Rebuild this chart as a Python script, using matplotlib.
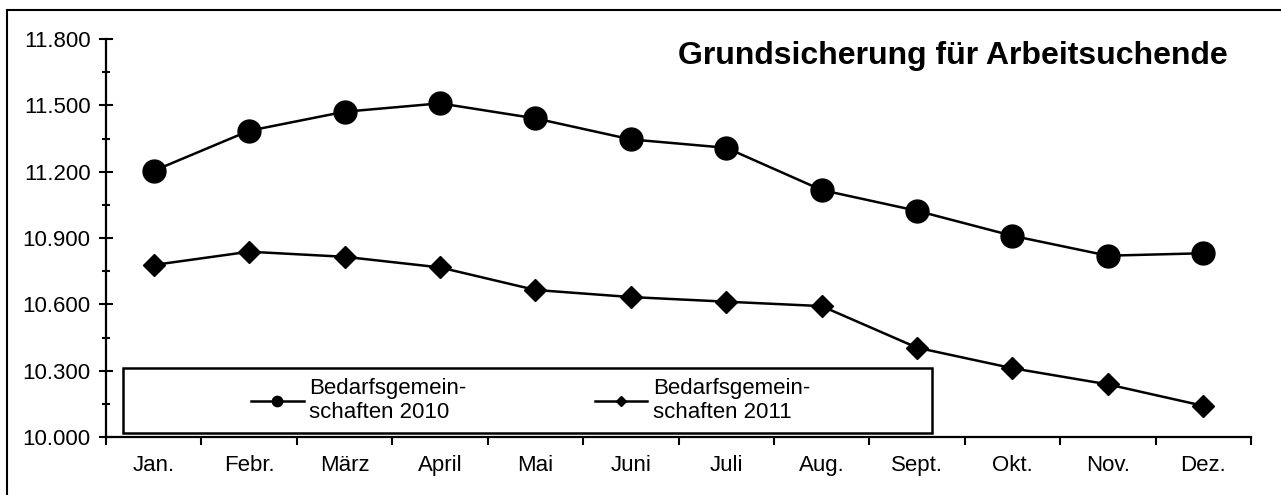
import matplotlib
matplotlib.use('Agg')
import matplotlib.pyplot as plt
from matplotlib.patches import Rectangle
from matplotlib.ticker import FixedLocator, FuncFormatter

plt.rcParams['font.family'] = ['Liberation Sans', 'DejaVu Sans']

# data
months = ['Jan.', 'Febr.', 'März', 'April', 'Mai', 'Juni', 'Juli',
          'Aug.', 'Sept.', 'Okt.', 'Nov.', 'Dez.']
bg_2010 = [11204, 11385, 11471, 11509, 11441, 11346, 11308,
           11117, 11023, 10910, 10820, 10831]
bg_2011 = [10778, 10838, 10815, 10767, 10665, 10633, 10612,
           10592, 10404, 10311, 10238, 10141]
y_ticks = [10000, 10300, 10600, 10900, 11200, 11500, 11800]
title = 'Grundsicherung für Arbeitsuchende'
label_2010 = 'Bedarfsgemein-\nschaften 2010'
label_2011 = 'Bedarfsgemein-\nschaften 2011'

fig = plt.figure(figsize=(12.81, 4.95), dpi=100)
ax = fig.add_axes([106 / 1281, 58 / 495, 1145 / 1281, 398 / 495])

x = list(range(len(months)))
l1, = ax.plot(x, bg_2010, color='black', lw=1.8, marker='o', ms=16.5,
              label=label_2010)
l2, = ax.plot(x, bg_2011, color='black', lw=1.8, marker='D', ms=11.7,
              label=label_2011)

ax.set_xlim(-0.5, len(months) - 0.5)
ax.set_ylim(y_ticks[0], y_ticks[-1])

ax.yaxis.set_major_locator(FixedLocator(y_ticks))
ax.yaxis.set_minor_locator(FixedLocator([t + 150 for t in y_ticks[:-1]]))
ax.yaxis.set_major_formatter(FuncFormatter(lambda v, p: f'{v:,.0f}'.replace(',', '.')))
ax.tick_params(axis='y', which='major', direction='inout', length=10, width=1.5,
               labelsize=16, pad=6)
ax.tick_params(axis='y', which='minor', direction='inout', length=6, width=1.5)

ax.xaxis.set_major_locator(FixedLocator(x))
ax.set_xticklabels(months)
ax.xaxis.set_minor_locator(FixedLocator([i - 0.5 for i in range(len(months) + 1)]))
ax.tick_params(axis='x', which='major', length=0, labelsize=16, pad=13)
ax.tick_params(axis='x', which='minor', direction='out', length=6, width=1.5)

for s in ['top', 'right']:
    ax.spines[s].set_visible(False)
for s in ['left', 'bottom']:
    ax.spines[s].set_linewidth(1.6)

ax.text(0.98, 0.957, title, transform=ax.transAxes, ha='right', va='center',
        fontsize=23, fontweight='bold')

# legend box
ax.add_patch(Rectangle((0.0148, 0.010), 0.7066, 0.163, transform=ax.transAxes,
                       fill=False, lw=1.8, ec='black', zorder=5))
leg = ax.legend(handles=[l1, l2], loc='center', bbox_to_anchor=(0.371, 0.092),
                ncol=2, frameon=False, fontsize=16, markerscale=0.45,
                handlelength=2.35, handletextpad=0.25, columnspacing=5.8)

# outer frame (only top and left edges fall inside the picture)
fig.add_artist(Rectangle((7 / 1281, -20 / 495), 1300 / 1281, 505 / 495,
                         transform=fig.transFigure, fill=False, lw=1.5, ec='black'))

fig.savefig('out.png', dpi=100)
